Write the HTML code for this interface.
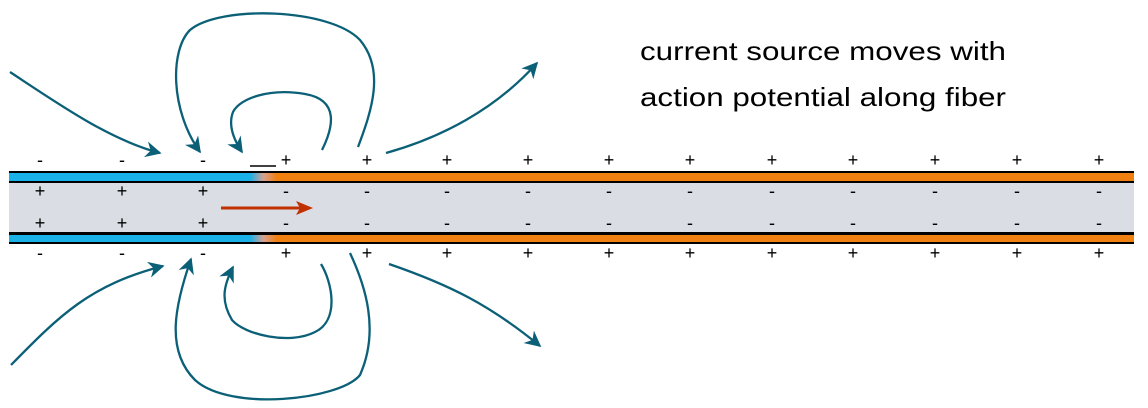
<!DOCTYPE html>
<html><head><meta charset="utf-8"><style>
html,body{margin:0;padding:0;background:#fff;width:1148px;height:408px;overflow:hidden}
svg{display:block;font-family:"Liberation Sans",sans-serif}
</style></head><body>
<svg width="1148" height="408" viewBox="0 0 1148 408">
<defs>
<linearGradient id="g" x1="0" x2="1"><stop offset="0" stop-color="#1ab0e8"/><stop offset="0.5" stop-color="#d7a090"/><stop offset="1" stop-color="#f08010"/></linearGradient>
<marker id="ah" viewBox="0 0 10 10" refX="9" refY="5" markerWidth="7" markerHeight="7" orient="auto" markerUnits="strokeWidth"><path d="M0,0 L10,5 L0,10 L3,5 z" fill="#0b6077"/></marker>
</defs>
<g>
<rect x="9" y="183" width="1125" height="49" fill="#dadde3"/>
<rect x="9" y="171" width="1125" height="12" fill="#000"/>
<rect x="9" y="232" width="1125" height="12" fill="#000"/>
<rect x="9" y="173" width="242" height="8" fill="#1ab0e8"/>
<rect x="250" y="173" width="27" height="8" fill="url(#g)"/>
<rect x="276" y="173" width="858" height="8" fill="#f08010"/>
<rect x="9" y="235" width="242" height="7" fill="#1ab0e8"/>
<rect x="250" y="235" width="27" height="7" fill="url(#g)"/>
<rect x="276" y="235" width="858" height="7" fill="#f08010"/>
<line x1="250" y1="166" x2="276" y2="166" stroke="#000" stroke-width="1.5"/>
</g>
<g id="charges" font-size="18" fill="#000" text-anchor="middle"></g>
<line x1="221" y1="208" x2="302" y2="208" stroke="#c03000" stroke-width="3"/>
<path d="M296,201 L313,208 L296,215 L300,208 z" fill="#c03000"/>
<g fill="none" stroke="#0b6077" stroke-width="2.3" marker-end="url(#ah)">
<path d="M10,72 C60,105 110,140 160,153"/>
<path d="M358,147 C372,110 385,70 360,40 C330,8 220,5 190,30 C170,50 170,110 200,152"/>
<path d="M322,150 C333,128 340,100 305,94 C270,88 240,98 233,112 C228,125 234,140 242,152"/>
<path d="M386,153 C440,138 495,110 537,63"/>
<path d="M11,365 C60,315 90,285 163,266"/>
<path d="M350,253 C365,285 380,330 360,375 C340,400 230,412 195,380 C165,350 175,305 191,259"/>
<path d="M321,264 C332,282 340,320 315,332 C290,345 245,335 232,320 C220,300 224,285 233,267"/>
<path d="M389,264 C450,285 490,305 540,346"/>
</g>
<text x="640" y="60" font-size="26" textLength="366" lengthAdjust="spacingAndGlyphs">current source moves with</text>
<text x="640" y="106" font-size="26" textLength="366" lengthAdjust="spacingAndGlyphs">action potential along fiber</text>
<script>
const chargeX=[40,122,203,286,367,447,528,609,690,772,853,935,1017,1099];
const g=document.getElementById('charges');
chargeX.forEach((x,i)=>{
  const depol=i<3;
  [[166,depol?'-':'+'],[197,depol?'+':'-'],[229,depol?'+':'-'],[259,depol?'-':'+']].forEach(([y,s])=>{
    const t=document.createElementNS('http://www.w3.org/2000/svg','text');
    t.setAttribute('x',x);t.setAttribute('y',y);t.textContent=s;
    
    
    g.appendChild(t);
  });
});
</script>
</svg>
</body></html>
